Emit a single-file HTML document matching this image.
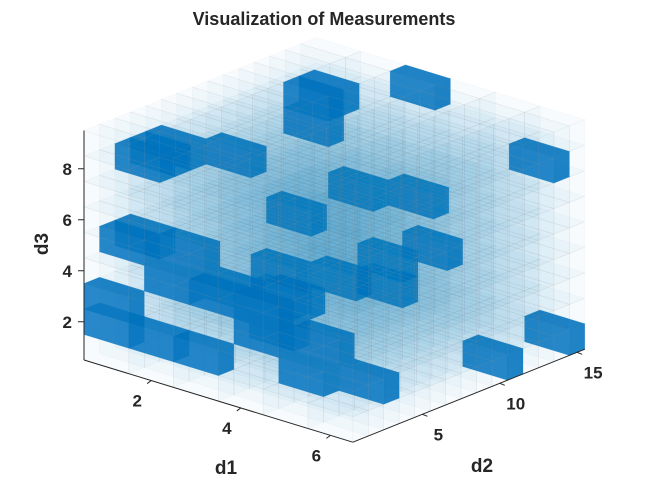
<!DOCTYPE html>
<html><head><meta charset="utf-8"><style>
html,body{margin:0;padding:0;background:#fff}
svg text{font-family:"Liberation Sans",Arial,sans-serif;font-weight:bold;fill:#262626}
</style></head><body>
<svg id="chart" width="648" height="496" viewBox="0 0 648 496" xmlns="http://www.w3.org/2000/svg">
<rect width="648" height="496" fill="#fff"/>
<g id="cells"></g>
<g id="axes"></g>
<text x="324" y="25" text-anchor="middle" font-size="18">Visualization of Measurements</text>
</svg>
<script>
// Grid dimensions
const d1Range = [0.5, 6.5];
const d2Range = [0.5, 15.5];
const d3Range = [0.5, 9.5];
const d1Ticks = [2, 4, 6];
const d2Ticks = [5, 10, 15];
const d3Ticks = [2, 4, 6, 8];
// filled cells [d1, d2, d3]
const filledD1 = [2,2,2,3,6,6,6,3,4,5,4,4,3,1,1,1,2,3,3,1,1,2,3,4,2,3,1,5,6,5,4,3,4,2,1,4,4];
const filledD2 = [11,11,12,15,14,15,11,11,12,10,10,10,7,3,4,5,6,6,6,2,1,2,2,2,1,1,1,2,3,3,3,3,4,3,3,7,2];
const filledD3 = [9,8,9,9,8,1,1,6,6,5,4,3,6,8,8,8,8,4,3,5,3,4,4,4,2,2,2,2,2,3,3,4,4,5,5,4,3];

const svg = document.getElementById('chart');
const NS = 'http://www.w3.org/2000/svg';
function px(a, b, c) {
  return [84 + (a - 0.5) * 44.8 + (b - 0.5) * 15.47,
          360 + (a - 0.5) * 13.7 - (b - 0.5) * 6.2 - (c - 0.5) * 25.5];
}
const filled = new Set();
for (let n = 0; n < filledD1.length; n++) filled.add(filledD1[n] + ',' + filledD2[n] + ',' + filledD3[n]);

const cells = [];
for (let i = 1; i <= 6; i++) for (let j = 1; j <= 15; j++) for (let k = 1; k <= 9; k++) cells.push([i, j, k]);
cells.sort((p, q) => (p[0] - p[1] + p[2]) - (q[0] - q[1] + q[2]));
const g = document.getElementById('cells');
function poly(pts, fill, op, stroke, sop, name) {
  const p = document.createElementNS(NS, 'polygon');
  p.setAttribute('points', pts.map(v => v[0].toFixed(1) + ',' + v[1].toFixed(1)).join(' '));
  p.setAttribute('fill', fill);
  p.setAttribute('fill-opacity', op);
  p.setAttribute('stroke', stroke);
  p.setAttribute('stroke-opacity', sop);
  p.setAttribute('stroke-width', '0.7');
  
  
  g.appendChild(p);
}
cells.forEach(([i, j, k]) => {
  const a0 = i - 0.5, a1 = i + 0.5, b0 = j - 0.5, b1 = j + 0.5, c0 = k - 0.5, c1 = k + 0.5;
  const solid = filled.has(i + ',' + j + ',' + k);
  const col = '#0072BD';
  const op = solid ? 0.88 : 0.03;
  const st = solid ? '#0072BD' : '#a0a0a0';
  const sop = solid ? 0.25 : 0.065;
  const nm = solid ? 'filled-voxel' : 'empty-voxel';
  poly([px(a0,b0,c1), px(a1,b0,c1), px(a1,b1,c1), px(a0,b1,c1)], col, op, st, sop, nm);
  poly([px(a1,b0,c0), px(a1,b1,c0), px(a1,b1,c1), px(a1,b0,c1)], col, op, st, sop, nm);
  poly([px(a0,b0,c0), px(a1,b0,c0), px(a1,b0,c1), px(a0,b0,c1)], solid ? '#0a78c2' : col, op, st, sop, nm);
});

const ax = document.getElementById('axes');
function line(p, q, name) {
  const l = document.createElementNS(NS, 'line');
  l.setAttribute('x1', p[0]); l.setAttribute('y1', p[1]);
  l.setAttribute('x2', q[0]); l.setAttribute('y2', q[1]);
  l.setAttribute('stroke', '#262626'); l.setAttribute('stroke-width', '1');
  
  
  ax.appendChild(l);
}
function text(x, y, s, anchor, name, size, rot) {
  const t = document.createElementNS(NS, 'text');
  t.setAttribute('x', x); t.setAttribute('y', y);
  t.setAttribute('text-anchor', anchor);
  t.setAttribute('font-size', size || 17);
  if (rot) t.setAttribute('transform', 'rotate(' + rot + ' ' + x + ' ' + y + ')');
  t.textContent = s;
  
  
  ax.appendChild(t);
}
line(px(d1Range[0], d2Range[0], d3Range[0]), px(d1Range[0], d2Range[0], d3Range[1]), 'd3-axis-line');
line(px(d1Range[0], d2Range[0], d3Range[0]), px(d1Range[1], d2Range[0], d3Range[0]), 'd1-axis-line');
line(px(d1Range[1], d2Range[0], d3Range[0]), px(d1Range[1], d2Range[1], d3Range[0]), 'd2-axis-line');
d3Ticks.forEach(v => {
  const p = px(d1Range[0], d2Range[0], v);
  line([p[0] - 6, p[1]], p, 'd3-tick');
  text(p[0] - 12, p[1] + 6, String(v), 'end', 'd3-tick-label');
});
d1Ticks.forEach(v => {
  const p = px(v, d2Range[0], d3Range[0]);
  line(p, [p[0] - 4, p[1] + 3], 'd1-tick');
  text(p[0] - 14, p[1] + 26, String(v), 'middle', 'd1-tick-label');
});
d2Ticks.forEach(v => {
  const p = px(d1Range[1], v, d3Range[0]);
  line(p, [p[0] + 5, p[1] + 2], 'd2-tick');
  text(p[0] + 16, p[1] + 26, String(v), 'middle', 'd2-tick-label');
});
text(226, 474, 'd1', 'middle', 'd1-axis-title', 19);
text(482, 472, 'd2', 'middle', 'd2-axis-title', 19);
text(48, 244, 'd3', 'middle', 'd3-axis-title', 19, -90);
</script>
</body></html>
